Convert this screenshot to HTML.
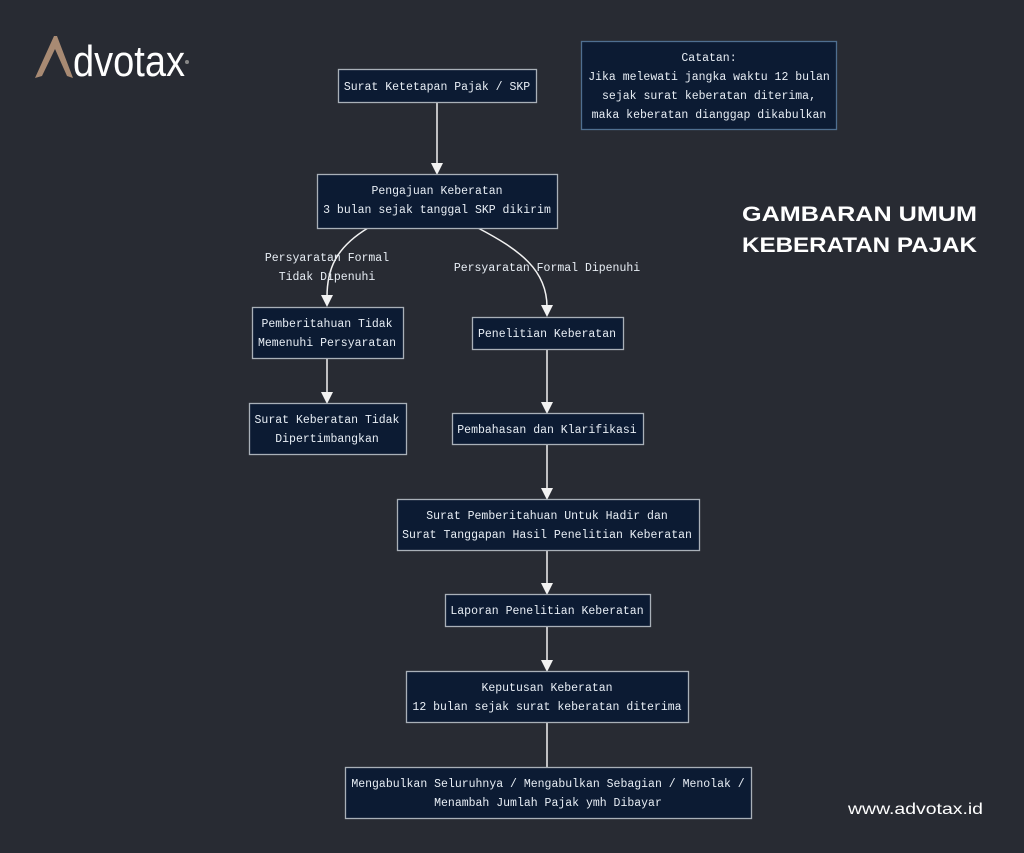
<!DOCTYPE html>
<html><head><meta charset="utf-8"><style>
html,body{margin:0;padding:0;background:#282b33;}
svg{display:block}
.t{font-family:"Liberation Mono",monospace;font-size:11.5px;fill:#e8eef5;text-anchor:middle}
.b{fill:#0c1b33;stroke:#a9b0b8;stroke-width:1.3}
.l{stroke:#f2f2f2;stroke-width:1.5;fill:none}
.a{fill:#f2f2f2}
</style></head><body>
<svg width="1024" height="853" viewBox="0 0 1024 853" xmlns="http://www.w3.org/2000/svg">
<rect width="1024" height="853" fill="#282b33"/>
<!-- logo -->
<polygon points="35,78 54,36 57,36 73,78 67,76 55,49 42,76" fill="#a88a73"/>
<text x="73" y="76" font-family="Liberation Sans Narrow,Liberation Sans,sans-serif" font-size="44" fill="#fff" textLength="112" lengthAdjust="spacingAndGlyphs">dvotax</text>
<circle cx="187" cy="62" r="2" fill="#888"/>
<!-- title -->
<text x="742" y="221" font-family="Liberation Sans,sans-serif" font-weight="bold" font-size="21" fill="#fff" textLength="235" lengthAdjust="spacingAndGlyphs">GAMBARAN UMUM</text>
<text x="742" y="252" font-family="Liberation Sans,sans-serif" font-weight="bold" font-size="21" fill="#fff" textLength="235" lengthAdjust="spacingAndGlyphs">KEBERATAN PAJAK</text>
<text x="848" y="814" font-family="Liberation Sans,sans-serif" font-size="16" fill="#fff" textLength="135" lengthAdjust="spacingAndGlyphs">www.advotax.id</text>
<!-- note -->
<rect x="581.5" y="41.5" width="255" height="88" fill="#0c1b33" stroke="#4f6f90" stroke-width="1.3"/>
<text class="t" x="709" y="61">Catatan:</text>
<text class="t" x="709" y="80">Jika melewati jangka waktu 12 bulan</text>
<text class="t" x="709" y="99">sejak surat keberatan diterima,</text>
<text class="t" x="709" y="118">maka keberatan dianggap dikabulkan</text>
<!-- connectors -->
<path class="l" d="M437,102 V164"/><polygon class="a" points="431,163 443,163 437,175"/>
<path class="l" d="M368,228 C335,248 327,270 327,297"/><polygon class="a" points="321,295 333,295 327,307"/>
<path class="l" d="M478,228 C520,250 547,270 547,307"/><polygon class="a" points="541,305 553,305 547,317"/>
<path class="l" d="M327,358 V393"/><polygon class="a" points="321,392 333,392 327,404"/>
<path class="l" d="M547,349 V403"/><polygon class="a" points="541,402 553,402 547,414"/>
<path class="l" d="M547,444 V489"/><polygon class="a" points="541,488 553,488 547,500"/>
<path class="l" d="M547,550 V584"/><polygon class="a" points="541,583 553,583 547,595"/>
<path class="l" d="M547,626 V661"/><polygon class="a" points="541,660 553,660 547,672"/>
<path class="l" d="M547,722 V767"/>
<!-- edge labels -->
<text class="t" x="327" y="261">Persyaratan Formal</text>
<text class="t" x="327" y="280">Tidak Dipenuhi</text>
<text class="t" x="547" y="271">Persyaratan Formal Dipenuhi</text>
<!-- nodes -->
<rect class="b" x="338.5" y="69.5" width="198" height="33"/>
<text class="t" x="437" y="90">Surat Ketetapan Pajak / SKP</text>
<rect class="b" x="317.5" y="174.5" width="240" height="54"/>
<text class="t" x="437" y="194">Pengajuan Keberatan</text>
<text class="t" x="437" y="213">3 bulan sejak tanggal SKP dikirim</text>
<rect class="b" x="252.5" y="307.5" width="151" height="51"/>
<text class="t" x="327" y="327">Pemberitahuan Tidak</text>
<text class="t" x="327" y="346">Memenuhi Persyaratan</text>
<rect class="b" x="472.5" y="317.5" width="151" height="32"/>
<text class="t" x="547" y="337">Penelitian Keberatan</text>
<rect class="b" x="249.5" y="403.5" width="157" height="51"/>
<text class="t" x="327" y="423">Surat Keberatan Tidak</text>
<text class="t" x="327" y="442">Dipertimbangkan</text>
<rect class="b" x="452.5" y="413.5" width="191" height="31"/>
<text class="t" x="547" y="433">Pembahasan dan Klarifikasi</text>
<rect class="b" x="397.5" y="499.5" width="302" height="51"/>
<text class="t" x="547" y="519">Surat Pemberitahuan Untuk Hadir dan</text>
<text class="t" x="547" y="538">Surat Tanggapan Hasil Penelitian Keberatan</text>
<rect class="b" x="445.5" y="594.5" width="205" height="32"/>
<text class="t" x="547" y="614">Laporan Penelitian Keberatan</text>
<rect class="b" x="406.5" y="671.5" width="282" height="51"/>
<text class="t" x="547" y="691">Keputusan Keberatan</text>
<text class="t" x="547" y="710">12 bulan sejak surat keberatan diterima</text>
<rect class="b" x="345.5" y="767.5" width="406" height="51"/>
<text class="t" x="548" y="787">Mengabulkan Seluruhnya / Mengabulkan Sebagian / Menolak /</text>
<text class="t" x="548" y="806">Menambah Jumlah Pajak ymh Dibayar</text>
</svg>
</body></html>
